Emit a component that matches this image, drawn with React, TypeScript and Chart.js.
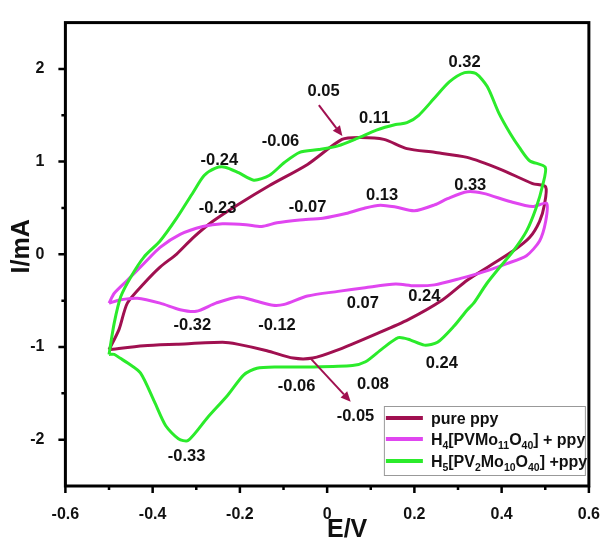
import React, { useEffect, useRef } from 'react';
import { Chart, registerables } from 'chart.js';

Chart.register(...registerables);

// ---- Data (E in V, I in mA) ----
const ppyE = [-0.5, -0.477, -0.458, -0.42, -0.383, -0.345, -0.307, -0.262, -0.203, -0.133, -0.045, 0.034, 0.078, 0.13, 0.183, 0.246, 0.321, 0.396, 0.471, 0.501,
  0.498, 0.487, 0.464, 0.427, 0.374, 0.321, 0.265, 0.186, 0.11, 0.02, -0.033, -0.078, -0.138, -0.206, -0.24, -0.345, -0.42, -0.5];
const ppyI = [-1.03, -0.81, -0.527, -0.315, -0.138, 0.003, 0.18, 0.356, 0.54, 0.74, 0.97, 1.24, 1.26, 1.24, 1.14, 1.1, 1.046, 0.92, 0.763, 0.727,
  0.533, 0.356, 0.18, 0.038, -0.12, -0.28, -0.49, -0.704, -0.863, -1.04, -1.12, -1.12, -1.04, -0.969, -0.95, -0.97, -0.986, -1.03];

const pvmoE = [-0.5, -0.488, -0.458, -0.42, -0.383, -0.337, -0.285, -0.24, -0.186, -0.15, -0.115, -0.063, -0.01, 0.043, 0.087, 0.122, 0.157, 0.2, 0.246, 0.276, 0.321, 0.358, 0.419, 0.471, 0.503,
  0.501, 0.487, 0.457, 0.412, 0.358, 0.306, 0.246, 0.2, 0.157, 0.087, 0.025, -0.045, -0.098, -0.124, -0.159, -0.203, -0.255, -0.3, -0.337, -0.383, -0.435, -0.473, -0.5];
const pvmoI = [-0.527, -0.42, -0.28, -0.1, 0.074, 0.215, 0.3, 0.33, 0.32, 0.3, 0.34, 0.37, 0.39, 0.44, 0.5, 0.53, 0.51, 0.47, 0.533, 0.6, 0.675, 0.657, 0.57, 0.515, 0.55,
  0.356, 0.144, -0.015, -0.1, -0.19, -0.26, -0.33, -0.34, -0.32, -0.36, -0.4, -0.45, -0.54, -0.55, -0.51, -0.46, -0.527, -0.615, -0.598, -0.527, -0.474, -0.49, -0.527];

const pv2moE = [-0.5, -0.488, -0.473, -0.45, -0.42, -0.383, -0.345, -0.307, -0.282, -0.256, -0.234, -0.203, -0.168, -0.133, -0.098, -0.063, -0.019, 0.025, 0.069, 0.113, 0.157, 0.183, 0.21, 0.245, 0.28, 0.315, 0.341, 0.367, 0.394, 0.42, 0.441, 0.464, 0.5,
  0.494, 0.479, 0.457, 0.427, 0.396, 0.366, 0.336, 0.321, 0.291, 0.253, 0.223, 0.186, 0.163, 0.126, 0.088, 0.058, -0.04, -0.116, -0.161, -0.191, -0.228, -0.274, -0.319, -0.341, -0.37, -0.396, -0.428, -0.458, -0.475, -0.488, -0.5];
const pv2moI = [-1.08, -0.74, -0.456, -0.244, -0.03, 0.144, 0.39, 0.67, 0.85, 0.93, 0.94, 0.88, 0.8, 0.85, 0.99, 1.1, 1.13, 1.17, 1.25, 1.34, 1.4, 1.42, 1.5, 1.68, 1.86, 1.96, 1.95, 1.81, 1.52, 1.3, 1.15, 1.01, 0.94,
  0.745, 0.5, 0.25, 0.038, -0.138, -0.315, -0.527, -0.6, -0.774, -0.95, -0.98, -0.916, -0.9, -1.02, -1.16, -1.2, -1.216, -1.216, -1.23, -1.3, -1.52, -1.76, -2.01, -1.99, -1.85, -1.59, -1.28, -1.17, -1.12, -1.08, -1.08];

const xTicks = [-0.6, -0.4, -0.2, 0, 0.2, 0.4, 0.6];
const yTicks = [-2, -1, 0, 1, 2];

// peak labels: text, E, I
const peakText = ['0.32', '0.05', '0.11', '-0.06', '-0.24', '0.33', '0.13', '-0.23', '-0.07', '0.07', '0.24', '-0.32', '-0.12', '0.24', '-0.06', '0.08', '-0.05', '-0.33'];
const peakE = [0.315, -0.008, 0.109, -0.107, -0.247, 0.328, 0.126, -0.251, -0.045, 0.082, 0.223, -0.309, -0.115, 0.263, -0.07, 0.105, 0.065, -0.322];
const peakI = [2.07, 1.76, 1.47, 1.22, 1.01, 0.74, 0.64, 0.5, 0.51, -0.525, -0.46, -0.77, -0.77, -1.18, -1.43, -1.4, -1.75, -2.18];

// arrows: from (E,I) to (E,I)
const arrowFromE = [-0.019, -0.037];
const arrowFromI = [1.61, -1.128];
const arrowToE = [0.035, 0.054];
const arrowToI = [1.276, -1.59];

const seriesNames = ['pure ppy', 'H4[PVMo11O40] + ppy', 'H5[PV2Mo10O40] +ppy'];
const colors = ['#A01050', '#E046F0', '#2BEB2B'];

const FONT = '"Liberation Sans", Arial, sans-serif';

const legendRuns: [string, number][][] = [
  [['pure ppy', 0]],
  [['H', 0], ['4', 1], ['[PVMo', 0], ['11', 1], ['O', 0], ['40', 1], ['] + ppy', 0]],
  [['H', 0], ['5', 1], ['[PV', 0], ['2', 1], ['Mo', 0], ['10', 1], ['O', 0], ['40', 1], ['] +ppy', 0]],
];

const toPts = (xs: number[], ys: number[]) => xs.map((v, i) => ({ x: v, y: ys[i] }));

const overlay = {
  id: 'overlay',
  afterDraw(chart: any) {
    const { ctx, chartArea: a } = chart;
    const xs = chart.scales.x;
    const ys = chart.scales.y;
    ctx.save();
    // frame
    ctx.strokeStyle = '#000';
    ctx.lineWidth = 3;
    ctx.strokeRect(a.left, a.top, a.right - a.left, a.bottom - a.top);
    // tick marks
    ctx.lineWidth = 2.5;
    ctx.beginPath();
    for (let i = -6; i <= 6; i++) {
      const px = xs.getPixelForValue(i / 10);
      const len = i % 2 === 0 ? 7 : 4;
      ctx.moveTo(px, a.bottom);
      ctx.lineTo(px, a.bottom + len);
    }
    for (let j = -4; j <= 4; j++) {
      const py = ys.getPixelForValue(j / 2);
      const len = j % 2 === 0 ? 7 : 4;
      ctx.moveTo(a.left, py);
      ctx.lineTo(a.left - len, py);
    }
    ctx.stroke();

    // peak labels
    ctx.fillStyle = '#111';
    ctx.font = `bold 16.5px ${FONT}`;
    ctx.textAlign = 'center';
    ctx.textBaseline = 'middle';
    peakText.forEach((t, i) => {
      ctx.fillText(t, xs.getPixelForValue(peakE[i]), ys.getPixelForValue(peakI[i]));
    });

    // arrows
    ctx.strokeStyle = colors[0];
    ctx.fillStyle = colors[0];
    ctx.lineWidth = 2;
    arrowFromE.forEach((_, i) => {
      const x1 = xs.getPixelForValue(arrowFromE[i]);
      const y1 = ys.getPixelForValue(arrowFromI[i]);
      const x2 = xs.getPixelForValue(arrowToE[i]);
      const y2 = ys.getPixelForValue(arrowToI[i]);
      const ang = Math.atan2(y2 - y1, x2 - x1);
      const hl = 10, hw = 4.5;
      const bx = x2 - hl * Math.cos(ang);
      const by = y2 - hl * Math.sin(ang);
      ctx.beginPath();
      ctx.moveTo(x1, y1);
      ctx.lineTo(bx, by);
      ctx.stroke();
      ctx.beginPath();
      ctx.moveTo(x2, y2);
      ctx.lineTo(bx + hw * Math.sin(ang), by - hw * Math.cos(ang));
      ctx.lineTo(bx - hw * Math.sin(ang), by + hw * Math.cos(ang));
      ctx.closePath();
      ctx.fill();
    });

    // legend
    const bx0 = a.right - 205, bx1 = a.right - 4;
    const by0 = a.bottom - 80, by1 = a.bottom - 11;
    ctx.fillStyle = '#fff';
    ctx.fillRect(bx0, by0, bx1 - bx0, by1 - by0);
    ctx.strokeStyle = '#999';
    ctx.lineWidth = 1;
    ctx.strokeRect(bx0 + 0.5, by0 + 0.5, bx1 - bx0, by1 - by0);
    const rowY = [by0 + 12, by0 + 33, by0 + 55];
    legendRuns.forEach((runs, r) => {
      const yy = rowY[r];
      ctx.strokeStyle = colors[r];
      ctx.lineWidth = 4;
      ctx.beginPath();
      ctx.moveTo(bx0 + 2, yy);
      ctx.lineTo(bx0 + 39, yy);
      ctx.stroke();
      let tx = bx0 + 47;
      ctx.fillStyle = '#111';
      ctx.textAlign = 'left';
      ctx.textBaseline = 'alphabetic';
      runs.forEach(([s, sub]) => {
        ctx.font = sub ? `bold 10.5px ${FONT}` : `bold 16px ${FONT}`;
        ctx.fillText(s, tx, yy + 6 + (sub ? 3.5 : 0));
        tx += ctx.measureText(s).width;
      });
    });

    // axis titles
    ctx.fillStyle = '#111';
    ctx.font = `bold 25px ${FONT}`;
    ctx.textAlign = 'center';
    ctx.textBaseline = 'alphabetic';
    ctx.fillText('E/V', (a.left + a.right) / 2 + 20, 537);
    ctx.save();
    ctx.translate(22, (a.top + a.bottom) / 2 - 8);
    ctx.rotate(-Math.PI / 2);
    ctx.textBaseline = 'middle';
    ctx.font = `bold 25px ${FONT}`;
    ctx.fillText('I/mA', 0, 0);
    ctx.restore();

    ctx.restore();
  },
};

export default function App() {
  const ref = useRef<HTMLCanvasElement>(null);
  useEffect(() => {
    if (!ref.current) return;
    const eData = [ppyE, pvmoE, pv2moE];
    const iData = [ppyI, pvmoI, pv2moI];
    const chart = new Chart(ref.current, {
      type: 'scatter',
      data: {
        datasets: seriesNames.map((name, k) => ({
          label: name,
          data: toPts(eData[k], iData[k]),
          showLine: true,
          borderColor: colors[k],
          backgroundColor: colors[k],
          borderWidth: 3,
          pointRadius: 0,
          tension: 0.25,
          order: 2 - k,
        })),
      },
      options: {
        animation: false,
        responsive: false,
        devicePixelRatio: 1,
        layout: { padding: { top: 14, right: 14, left: 0, bottom: 0 } },
        plugins: { legend: { display: false }, tooltip: { enabled: false } },
        scales: {
          x: {
            type: 'linear',
            min: -0.6,
            max: 0.6,
            afterBuildTicks: (s: any) => { s.ticks = xTicks.map((v) => ({ value: v })); },
            afterFit: (s: any) => { s.height = 52; },
            grid: { display: false },
            border: { display: false },
            ticks: {
              padding: 11,
              color: '#111',
              font: { family: FONT, size: 16, weight: 'bold' },
              callback: (v: any) => String(Number(Number(v).toFixed(1))),
            },
          },
          y: {
            type: 'linear',
            min: -2.5,
            max: 2.5,
            afterBuildTicks: (s: any) => { s.ticks = yTicks.map((v) => ({ value: v })); },
            afterFit: (s: any) => { s.width = 65.4; },
            grid: { display: false },
            border: { display: false },
            ticks: {
              padding: 13,
              color: '#111',
              font: { family: FONT, size: 16, weight: 'bold' },
              callback: (v: any) => String(v),
            },
          },
        },
      },
      plugins: [overlay],
    });
    return () => chart.destroy();
  }, []);
  return (
    <div style={{ position: 'absolute', left: 0, top: 0, width: 611, height: 538, background: '#fff' }}>
      <canvas ref={ref} width={611} height={538} style={{ display: 'block' }} />
    </div>
  );
}
